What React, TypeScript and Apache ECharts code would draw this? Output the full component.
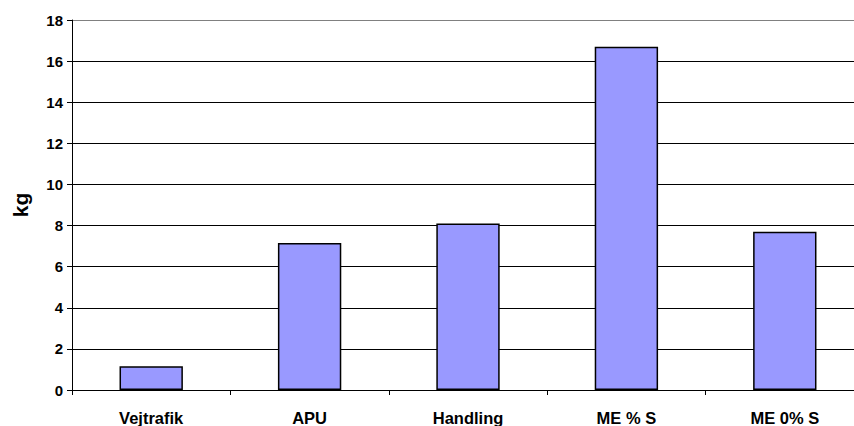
import React, { useEffect, useRef } from "react";
import * as echarts from "echarts";

const categories = ["Vejtrafik", "APU", "Handling", "ME % S", "ME 0% S"];
const values = [1.15, 7.15, 8.1, 16.7, 7.7];
const yTicks = { min: 0, max: 18, interval: 2 };

export default function App() {
  const ref = useRef<HTMLDivElement>(null);
  useEffect(() => {
    if (!ref.current) return;
    const chart = echarts.init(ref.current, null, { renderer: "svg" });
    const font = "'Liberation Sans', Arial, sans-serif";
    chart.setOption({
      animation: false,
      backgroundColor: "#fff",
      grid: { left: 72, top: 20, bottom: 36, right: 2, containLabel: false },
      xAxis: {
        type: "category",
        data: categories,
        axisLine: { lineStyle: { color: "#000", width: 1 } },
        axisTick: { show: true, length: 5, lineStyle: { color: "#000" }, alignWithLabel: false },
        axisLabel: {
          color: "#000",
          fontFamily: font,
          fontWeight: "bold",
          fontSize: 16.5,
          margin: 19,
          interval: 0,
        },
      },
      yAxis: {
        type: "value",
        min: yTicks.min,
        max: yTicks.max,
        interval: yTicks.interval,
        name: "kg",
        nameLocation: "middle",
        nameGap: 41,
        nameTextStyle: { color: "#000", fontFamily: font, fontWeight: "bold", fontSize: 21 },
        axisLine: { show: true, lineStyle: { color: "#000", width: 1 } },
        axisTick: { show: true, length: 5, lineStyle: { color: "#000" } },
        axisLabel: {
          color: "#000",
          fontFamily: font,
          fontWeight: "bold",
          fontSize: 15,
          margin: 9,
        },
        splitLine: {
          show: true,
          lineStyle: {
            color: ["#000", "#000", "#000", "#000", "#000", "#000", "#000", "#000", "#000", "#808080"],
            width: 1,
          },
        },
      },
      series: [
        {
          type: "bar",
          data: values,
          barWidth: "40%",
          itemStyle: { color: "#9999FF", borderColor: "#000", borderWidth: 1.5 },
        },
      ],
    });
    return () => chart.dispose();
  }, []);
  return (
    <div style={{ position: "fixed", left: 0, top: 0, width: 854, height: 426, overflow: "hidden", background: "#fff" }}>
      <div ref={ref} style={{ width: 866, height: 426 }} />
    </div>
  );
}
